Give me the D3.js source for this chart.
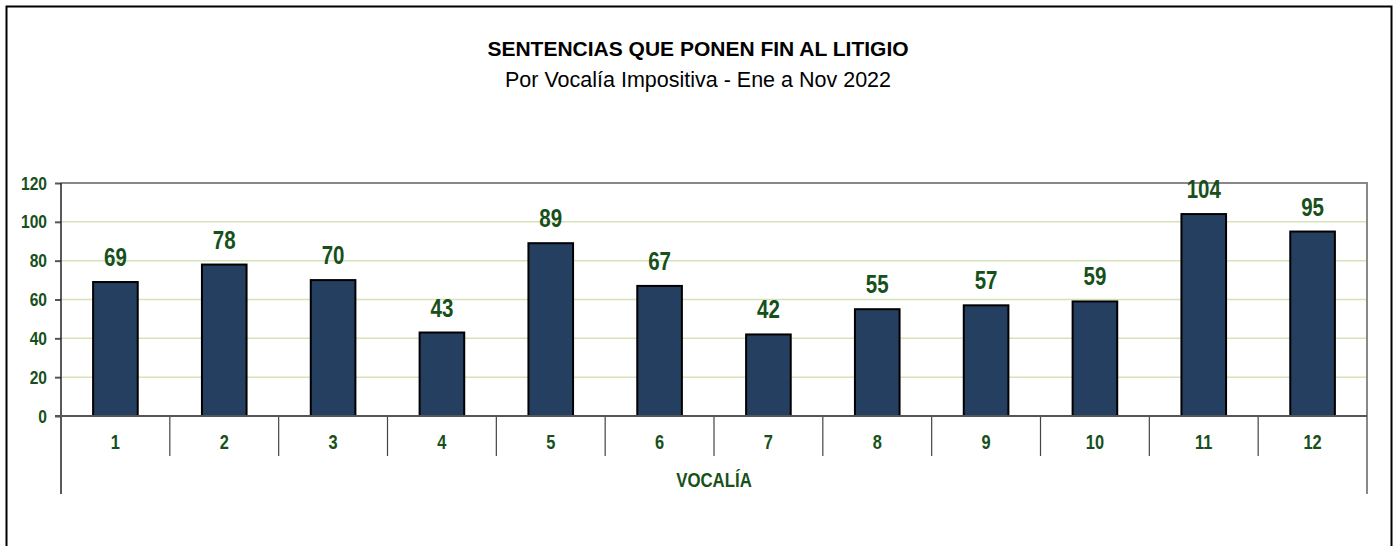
<!DOCTYPE html>
<html>
<head>
<meta charset="utf-8">
<script src="https://cdn.jsdelivr.net/npm/d3@7"></script>
<style>
  body { margin: 0; background: #fff; }
  text { font-family: "Liberation Sans Narrow", "Arial Narrow", "Liberation Sans", Arial, sans-serif; }
</style>
</head>
<body>
<div id="chart"></div>
<script>
// datos
const vocalias = ["1", "2", "3", "4", "5", "6", "7", "8", "9", "10", "11", "12"];
const sentencias = [69, 78, 70, 43, 89, 67, 42, 55, 57, 59, 104, 95];
const yTicks = [0, 20, 40, 60, 80, 100, 120];

const width = 1398;
const height = 546;
const margin = { top: 183, bottom: 130, left: 61, right: 31 };

const green = "#17501a";
const narrow = 0.82; // la fuente estrecha no está instalada: se comprime en x

const svg = d3.select("div#chart")
    .append("svg")
    .attr("width", width)
    .attr("height", height);

// marco exterior
svg.append("rect")
    .attr("x", 6.5).attr("y", 6.5)
    .attr("width", 1385).attr("height", 560)
    .attr("fill", "none")
    .attr("stroke", "#000")
    .attr("stroke-width", 2);

const x = d3.scaleBand()
    .domain(vocalias)
    .range([margin.left, width - margin.right]);

const y = d3.scaleLinear()
    .domain([0, 120])
    .range([height - margin.bottom, margin.top]);

// rejilla
svg.append("g")
    .selectAll("line")
    .data(yTicks.filter(d => d > 0 && d < 120))
    .join("line")
    .attr("x1", margin.left).attr("x2", width - margin.right)
    .attr("y1", d => y(d)).attr("y2", d => y(d))
    .attr("stroke", "#d5e3b8")
    .attr("stroke-width", 1.5);

// borde del área de trazado (arriba y derecha)
svg.append("path")
    .attr("d", `M${margin.left},${y(120)}H${width - margin.right}V494`)
    .attr("fill", "none")
    .attr("stroke", "#888")
    .attr("stroke-width", 2);

// eje y
const yAxis = d3.axisLeft(y).tickValues(yTicks).tickSize(6);
const yAxisGroup = svg.append("g")
    .attr("transform", `translate(${margin.left},0)`)
    .call(yAxis);
yAxisGroup.select(".domain").remove();
yAxisGroup.selectAll(".tick line").attr("stroke", "#555").attr("stroke-width", 2);
yAxisGroup.selectAll(".tick text")
    .attr("x", 0)
    .attr("transform", `translate(-14,0) scale(${narrow},1)`)
    .attr("fill", green)
    .attr("font-size", 19)
    .attr("font-weight", "bold");

// línea vertical izquierda
svg.append("line")
    .attr("x1", margin.left).attr("x2", margin.left)
    .attr("y1", y(120)).attr("y2", 494)
    .attr("stroke", "#222").attr("stroke-width", 1.5);

// divisores de categorías
svg.append("g")
    .selectAll("line")
    .data(vocalias.slice(1))
    .join("line")
    .attr("x1", d => x(d)).attr("x2", d => x(d))
    .attr("y1", y(0)).attr("y2", 456)
    .attr("stroke", "#444").attr("stroke-width", 1.2);

// barras
svg.append("g")
    .selectAll("rect")
    .data(sentencias)
    .join("rect")
    .attr("x", (d, i) => x(vocalias[i]) + x.bandwidth() * 0.295)
    .attr("y", d => y(d))
    .attr("width", x.bandwidth() * 0.41)
    .attr("height", d => y(0) - y(d))
    .attr("fill", "#253f60")
    .attr("stroke", "#000")
    .attr("stroke-width", 2);

// línea del cero
svg.append("line")
    .attr("x1", margin.left - 6).attr("x2", width - margin.right)
    .attr("y1", y(0)).attr("y2", y(0))
    .attr("stroke", "#555").attr("stroke-width", 2);

// etiquetas de valores
svg.append("g")
    .selectAll("text")
    .data(sentencias)
    .join("text")
    .attr("transform", (d, i) =>
        `translate(${x(vocalias[i]) + x.bandwidth() / 2},${y(d) - 16}) scale(${narrow},1)`)
    .attr("text-anchor", "middle")
    .attr("fill", green)
    .attr("font-size", 25)
    .attr("font-weight", "bold")
    .text(d => d);

// etiquetas de categorías
svg.append("g")
    .selectAll("text")
    .data(vocalias)
    .join("text")
    .attr("transform", d => `translate(${x(d) + x.bandwidth() / 2},449) scale(${narrow},1)`)
    .attr("text-anchor", "middle")
    .attr("fill", green)
    .attr("font-size", 20)
    .attr("font-weight", "bold")
    .text(d => d);

// título eje x
svg.append("text")
    .attr("transform", `translate(${(margin.left + width - margin.right) / 2},487) scale(0.8,1)`)
    .attr("text-anchor", "middle")
    .attr("fill", green)
    .attr("font-size", 21)
    .attr("font-weight", "bold")
    .text("VOCALÍA");

// títulos
svg.append("text")
    .attr("x", 698)
    .attr("y", 56)
    .attr("text-anchor", "middle")
    .attr("fill", "#000")
    .attr("font-size", 21)
    .attr("font-weight", "bold")
    .style("font-family", "'Liberation Sans', Arial, sans-serif")
    .text("SENTENCIAS QUE PONEN FIN AL LITIGIO");

svg.append("text")
    .attr("x", 698)
    .attr("y", 87)
    .attr("text-anchor", "middle")
    .attr("fill", "#000")
    .attr("font-size", 21.5)
    .style("font-family", "'Liberation Sans', Arial, sans-serif")
    .text("Por Vocalía Impositiva - Ene a Nov 2022");
</script>
</body>
</html>
